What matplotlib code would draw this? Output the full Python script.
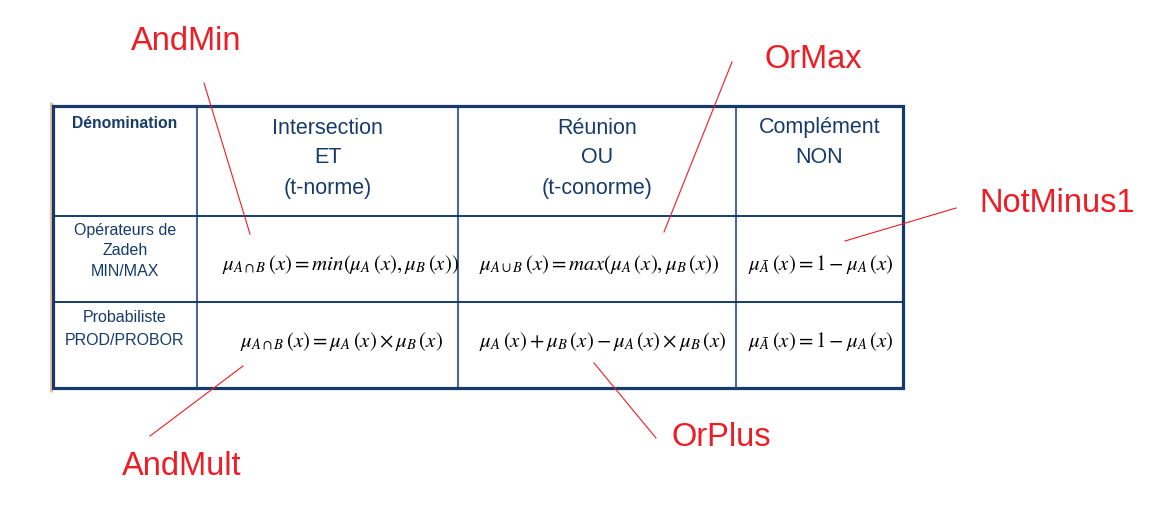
import matplotlib
matplotlib.use('Agg')
import matplotlib.pyplot as plt

plt.rcParams['font.family'] = ['Liberation Sans', 'DejaVu Sans']
plt.rcParams['mathtext.fontset'] = 'stix'

# table content
corner_label = 'Dénomination'
col_headers = [['Intersection', 'ET', '(t-norme)'],
               ['Réunion', 'OU', '(t-conorme)'],
               ['Complément', 'NON']]
row_labels = [['Opérateurs de', 'Zadeh', 'MIN/MAX'],
              ['Probabiliste', 'PROD/PROBOR']]
formulas_zadeh = [
    r'$\mu_{A\cap B}\,\left(x\right)=min\left(\mu_A\,\left(x\right),\mu_B\,\left(x\right)\right)$',
    r'$\mu_{A\cup B}\,\left(x\right)=max\left(\mu_A\,\left(x\right),\mu_B\,\left(x\right)\right)$',
    r'$\mu_{\bar{A}}\,\left(x\right)=1-\mu_A\,\left(x\right)$',
]
formulas_prob = [
    r'$\mu_{A\cap B}\,\left(x\right)=\mu_A\,\left(x\right)\times\mu_B\,\left(x\right)$',
    r'$\mu_A\,\left(x\right)+\mu_B\,\left(x\right)-\mu_A\,\left(x\right)\times\mu_B\,\left(x\right)$',
    r'$\mu_{\bar{A}}\,\left(x\right)=1-\mu_A\,\left(x\right)$',
]
annot_labels = ['AndMin', 'OrMax', 'NotMinus1', 'AndMult', 'OrPlus']

# layout (pixels)
col_edges = [53, 197, 458, 736, 903]
row_edges = [107, 217, 303, 389]
navy = '#163b6b'
inner = '#4a6a93'
red = '#ee1c25'

fig = plt.figure(figsize=(11.74, 5.10), dpi=100)
ax = fig.add_axes([0, 0, 1, 1])
ax.set_xlim(0, 1174)
ax.set_ylim(510, 0)
ax.axis('off')

# faint orange strip at the left of the table
ax.plot([50.5, 50.5], [103, 393], color='#f3b98e', lw=2.0, solid_capstyle='butt')

# inner grid
for x in col_edges[1:-1]:
    ax.plot([x, x], [row_edges[0], row_edges[-1]], color=inner, lw=1.5)
for y in row_edges[1:-1]:
    ax.plot([col_edges[0], col_edges[-1]], [y, y], color=navy, lw=1.4)
# outer border
ax.plot([col_edges[0], col_edges[-1], col_edges[-1], col_edges[0], col_edges[0]],
        [row_edges[0], row_edges[0], row_edges[-1], row_edges[-1], row_edges[0]],
        color=navy, lw=2.3, solid_joinstyle='miter')

# headers
ax.text(125, 124, corner_label, ha='center', va='center', fontsize=11.3,
        fontweight='bold', color=navy)
head_y = [128, 158, 189]
for j, lines in enumerate(col_headers):
    cx = (col_edges[j + 1] + col_edges[j + 2]) / 2
    for k, line in enumerate(lines):
        ax.text(cx, head_y[k], line, ha='center', va='center', fontsize=15.5,
                color=navy)

row_y = [[231, 251, 272], [318, 341]]
for i, lines in enumerate(row_labels):
    for k, line in enumerate(lines):
        ax.text(125, row_y[i][k], line, ha='center', va='center', fontsize=11.5,
                color=navy)

# formulas
zadeh_x = [222, 479, 748]
prob_x = [240, 479, 748]
for j, f in enumerate(formulas_zadeh):
    ax.text(zadeh_x[j], 265, f, ha='left', va='center', fontsize=15, color='black')
for j, f in enumerate(formulas_prob):
    ax.text(prob_x[j], 342, f, ha='left', va='center', fontsize=15, color='black')

# annotations
annot_pos = [(186, 41), (813, 59), (1057, 204), (182, 467), (721, 438)]
annot_lines = [((204, 84), (250, 235)),
               ((732, 63), (664, 233)),
               ((956, 209), (845, 242)),
               ((150, 437), (243, 367)),
               ((656, 439), (594, 364))]
for label, (tx, ty), (p0, p1) in zip(annot_labels, annot_pos, annot_lines):
    ax.text(tx, ty, label, ha='center', va='center', fontsize=23.5, color=red)
    ax.plot([p0[0], p1[0]], [p0[1], p1[1]], color=red, lw=0.8)

fig.savefig('out.png', dpi=100)
